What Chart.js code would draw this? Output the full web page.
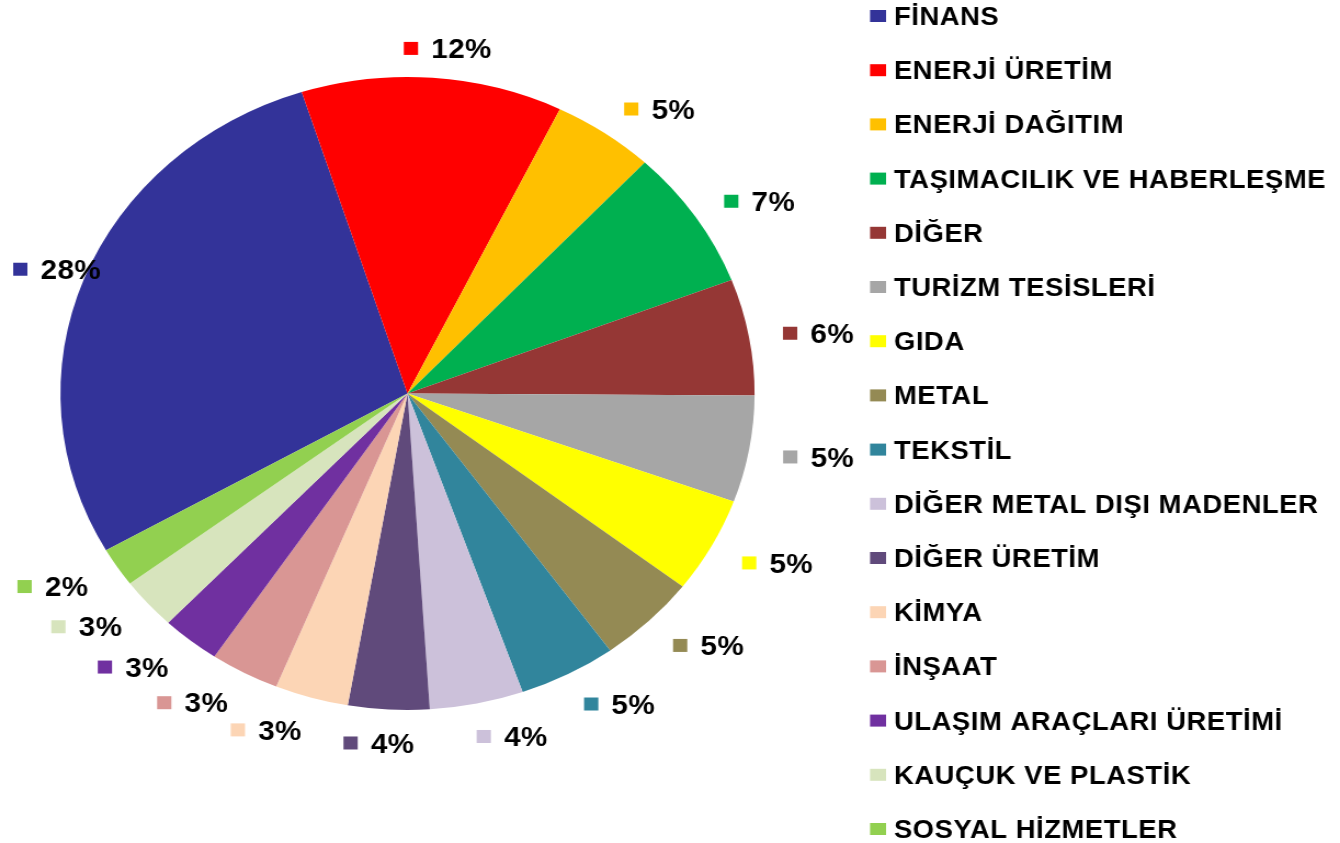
<!DOCTYPE html>
<html lang="tr">
<head>
<meta charset="utf-8">
<title>Sektörel dağılım</title>
<script src="https://cdn.jsdelivr.net/npm/chart.js@4/dist/chart.umd.min.js"></script>
<style>
    html, body { margin: 0; padding: 0; background: #fff; overflow: hidden; }
    #wrap { width: 1340px; height: 843px; position: relative; }
    /* the original picture is stretched sideways, so the canvas is too */
    #chart { position: absolute; left: 0; top: 0; transform: scaleX(1.0966); transform-origin: 0 0; }
</style>
</head>
<body>
<div id="wrap">
    <canvas id="chart" width="1222" height="843"></canvas>
</div>
<script>
// sektörler
const categories = [
    'FİNANS', 'ENERJİ ÜRETİM', 'ENERJİ DAĞITIM', 'TAŞIMACILIK VE HABERLEŞME',
    'DİĞER', 'TURİZM TESİSLERİ', 'GIDA', 'METAL', 'TEKSTİL',
    'DİĞER METAL DIŞI MADENLER', 'DİĞER ÜRETİM', 'KİMYA', 'İNŞAAT',
    'ULAŞIM ARAÇLARI ÜRETİMİ', 'KAUÇUK VE PLASTİK', 'SOSYAL HİZMETLER'
];
// pay (%) - resimden okunan yaklaşık değerler
const shares = [28.33, 12.17, 4.75, 7.19, 5.94, 5.44, 4.89, 4.64, 4.55, 4.36, 3.78, 3.42, 3.22, 2.72, 2.64, 2.0];
const sliceColors = [
    '#333399', '#FF0000', '#FFC000', '#00B050', '#953735', '#A6A6A6', '#FFFF00', '#948A54',
    '#31859C', '#CCC1DA', '#604A7B', '#FCD5B5', '#D99694', '#7030A0', '#D7E4BD', '#92D050'
];

const FONT = '"Liberation Sans", Arial, sans-serif';
const total = shares.reduce((a, b) => a + b, 0);

// yüzde etiketleri: küçük kare + metin, dilimin dışında
const outsideLabels = {
    id: 'outsideLabels',
    afterDatasetsDraw(chart) {
        const ctx = chart.ctx;
        const meta = chart.getDatasetMeta(0);
        const fontSize = 27;
        ctx.save();
        ctx.font = `bold ${fontSize}px ${FONT}`;
        ctx.letterSpacing = '0.4px';
        ctx.textBaseline = 'alphabetic';
        ctx.textAlign = 'left';
        meta.data.forEach((arc, i) => {
            const p = arc.getProps(['x', 'y', 'startAngle', 'endAngle', 'outerRadius'], true);
            const mid = (p.startAngle + p.endAngle) / 2;
            const r = p.outerRadius + 31.5;
            const px = p.x + Math.cos(mid) * r;
            const py = p.y + Math.sin(mid) * r;
            const text = Math.round(shares[i] / total * 100) + '%';
            const tw = ctx.measureText(text).width;
            const bw = 13 + 12 + tw;
            // near edge of the label sits on the point, centred near top/bottom
            const f = Math.max(-1, Math.min(1, 4 * Math.cos(mid)));
            const cx = px + f * bw / 2;
            const cy = py + 2;
            let left = cx - bw / 2;
            if (left < 12) left = 12;
            ctx.fillStyle = sliceColors[i];
            ctx.fillRect(left, cy - 6.5, 13, 13);
            ctx.fillStyle = '#000';
            ctx.fillText(text, left + 25, cy + fontSize * 0.36);
        });
        ctx.restore();
    }
};

// sağdaki lejant
const sideLegend = {
    id: 'sideLegend',
    afterDraw(chart) {
        const ctx = chart.ctx;
        const fontSize = 25;
        const startY = 16;
        const step = 54.2;
        ctx.save();
        ctx.font = `bold ${fontSize}px ${FONT}`;
        ctx.letterSpacing = '0.5px';
        ctx.textBaseline = 'alphabetic';
        ctx.textAlign = 'left';
        categories.forEach((name, i) => {
            const y = startY + i * step;
            ctx.fillStyle = sliceColors[i];
            ctx.fillRect(793.4, y - 6, 14.6, 12);
            ctx.fillStyle = '#000';
            ctx.fillText(name, 815.2, y + fontSize * 0.36);
        });
        ctx.restore();
    }
};

new Chart(document.getElementById('chart'), {
    type: 'pie',
    data: {
        labels: categories,
        datasets: [{
            data: shares,
            backgroundColor: sliceColors,
            borderWidth: 0,
            hoverOffset: 0,
            offset: 0
        }]
    },
    options: {
        responsive: false,
        animation: false,
        devicePixelRatio: 1,
        rotation: -119.7,
        layout: {
            padding: { left: 55.1, right: 533.9, top: 77, bottom: 133 }
        },
        plugins: {
            legend: { display: false },
            tooltip: { enabled: false }
        }
    },
    plugins: [outsideLabels, sideLegend]
});
</script>
</body>
</html>
